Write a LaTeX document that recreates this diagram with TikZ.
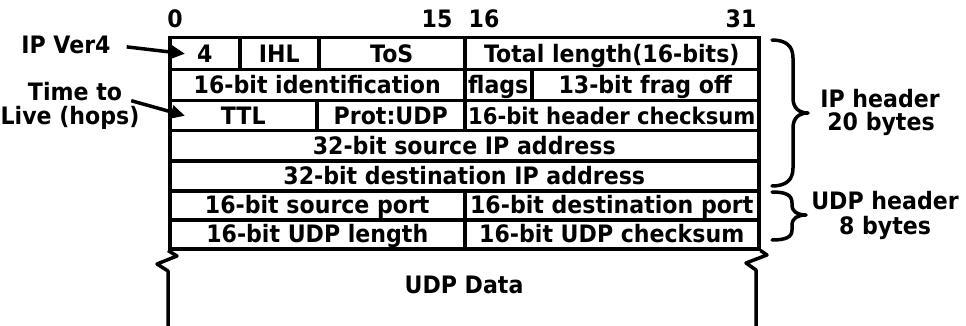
\documentclass[tikz,border=0pt]{standalone}
\usepackage{fontspec}
\setmainfont{DejaVu Sans}[FakeStretch=0.92]
\usetikzlibrary{arrows.meta}
\begin{document}
\begin{tikzpicture}[x=1pt,y=-1pt,
  every node/.style={font=\bfseries\fontsize{24}{25}\selectfont, inner sep=0pt, text height=17pt, text depth=0pt},
  cell/.style={draw, line width=3.5pt, anchor=north west, inner sep=0pt},
  num/.style={anchor=base},
  ptr/.style={line width=3.5pt, -{Triangle[length=14pt,width=13pt]}},
  brace/.style={line width=3.5pt, line cap=round, line join=round},
  edge/.style={line width=3.5pt, line join=round}]
\useasboundingbox (0,0) rectangle (966,326);

% bit numbers
\node[num] (b0)  at (175,28) {0};
\node[num] (b15) at (437,28) {15};
\node[num] (b16) at (484,28) {16};
\node[num] (b31) at (741,28) {31};

% row 1
\node[cell, minimum width=70pt,  minimum height=32pt] (ver)  at (168,36) {4};
\node[cell, minimum width=79pt,  minimum height=32pt] (ihl)  at (238,36) {IHL};
\node[cell, minimum width=146pt, minimum height=32pt] (tos)  at (317,36) {ToS};
\node[cell, minimum width=294pt, minimum height=32pt] (tlen) at (463,36) {Total length(16-bits)};
% row 2
\node[cell, minimum width=295pt, minimum height=31pt] (ident) at (168,68) {16-bit identification};
\node[cell, minimum width=67pt,  minimum height=31pt] (flags) at (463,68) {flags};
\node[cell, minimum width=227pt, minimum height=31pt] (frag)  at (530,68) {13-bit frag off};
% row 3
\node[cell, minimum width=147pt, minimum height=30pt] (ttl)  at (168,99) {TTL};
\node[cell, minimum width=148pt, minimum height=30pt] (prot) at (315,99) {Prot:UDP};
\node[cell, minimum width=294pt, minimum height=30pt, font=\bfseries\fontsize{23}{25}\selectfont] (hcs) at (463,99) {16-bit header checksum};
% rows 4-5
\node[cell, minimum width=589pt, minimum height=30pt] (src) at (168,129) {32-bit source IP address};
\node[cell, minimum width=589pt, minimum height=30pt] (dst) at (168,159) {32-bit destination IP address};
% rows 6-7
\node[cell, minimum width=295pt, minimum height=29pt] (sport) at (168,189) {16-bit source port};
\node[cell, minimum width=294pt, minimum height=29pt] (dport) at (463,189) {16-bit destination port};
\node[cell, minimum width=295pt, minimum height=29pt] (ulen)  at (168,218) {16-bit UDP length};
\node[cell, minimum width=294pt, minimum height=29pt] (ucs)   at (463,218) {16-bit UDP checksum};

% data area
\draw[edge] (ulen.south west) -- (177,256) -- (157,264) -- (168,271) -- (168,330);
\draw[edge] (ucs.south east) -- (767,255) -- (746,263) -- (756,270) -- (756,330);
\node (data) at (464,285) {UDP Data};

% left labels
\node (verlbl) at (66,45) {IP Ver4};
\node (time1) at (75,92) {Time to};
\node (time2) at (70,116) {Live (hops)};
\draw[ptr, shorten <=16pt] (verlbl.east) -- ([xshift=17pt]ver.west);
\draw[ptr] ([xshift=9pt,yshift=0pt]time1.south east) -- ([xshift=17pt]ttl.west);

% braces
\draw[brace] (772,40) .. controls (786,40) and (793,46) .. (793,58) -- (793,98)
  .. controls (793,108) and (799,113) .. (808,113)
  .. controls (799,113) and (793,118) .. (793,128) -- (793,168)
  .. controls (793,180) and (786,186) .. (772,186);
\draw[brace] (772,192) .. controls (786,192) and (792,195) .. (792,203) -- (792,205)
  .. controls (792,212) and (798,215) .. (806,215)
  .. controls (798,215) and (792,218) .. (792,225) -- (792,230)
  .. controls (792,237) and (786,240) .. (772,240);

% right labels
\node (ip1)  at (880,99)  {IP header};
\node (ip2)  at (881,122) {20 bytes};
\node (udp1) at (885,201) {UDP header};
\node (udp2) at (885,226) {8 bytes};
\end{tikzpicture}
\end{document}
